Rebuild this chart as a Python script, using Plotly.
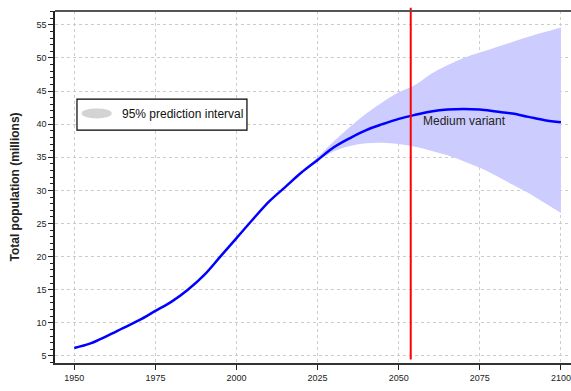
import plotly.graph_objects as go

# ---- data ----
years = [1950, 1955, 1960, 1965, 1970, 1975, 1980, 1985, 1990, 1995, 2000, 2005,
         2010, 2015, 2020, 2025, 2030, 2035, 2040, 2045, 2050, 2055, 2060, 2065,
         2070, 2075, 2080, 2085, 2090, 2095, 2100]
median = [6.2, 6.9, 8.0, 9.2, 10.4, 11.8, 13.2, 15.0, 17.2, 20.0, 22.8, 25.6,
          28.3, 30.5, 32.7, 34.6, 36.5, 37.9, 39.1, 40.0, 40.8, 41.4, 41.9, 42.2,
          42.3, 42.2, 41.9, 41.6, 41.1, 40.6, 40.3]

band_years = [2020, 2025, 2030, 2035, 2040, 2045, 2050, 2055, 2060, 2065, 2070,
              2075, 2080, 2085, 2090, 2095, 2100]
upper = [32.7, 35.0, 37.4, 39.6, 41.6, 43.3, 44.8, 45.9, 47.6, 48.9, 50.0,
         50.8, 51.6, 52.4, 53.2, 53.9, 54.6]
lower = [32.7, 34.4, 35.9, 36.7, 37.1, 37.2, 37.0, 36.6, 36.0, 35.3, 34.4,
         33.4, 32.2, 30.9, 29.6, 28.1, 26.6]

current_year = 2053.7
band_label = "95% prediction interval"
line_label = "Medium variant"
x_title = "Year"
y_title = "Total population (millions)"
x_ticks = [1950, 1975, 2000, 2025, 2050, 2075, 2100]
y_ticks = [5, 10, 15, 20, 25, 30, 35, 40, 45, 50, 55]

FONT = "Liberation Sans, Arial, sans-serif"

fig = go.Figure()
fig.add_trace(go.Scatter(x=band_years, y=lower, mode="lines", line=dict(width=0, shape="spline"),
                         showlegend=False, hoverinfo="skip"))
fig.add_trace(go.Scatter(x=band_years, y=upper, mode="lines", line=dict(width=0, shape="spline"),
                         fill="tonexty", fillcolor="#ccccff", showlegend=False,
                         name=band_label))
fig.add_trace(go.Scatter(x=years, y=median, mode="lines",
                         line=dict(color="#0000ff", width=2.5, shape="spline"),
                         showlegend=False, name=line_label))

fig.add_annotation(x=2057.0, y=40.5, xref="x", yref="y", text=line_label,
                   showarrow=False, xanchor="left", yanchor="middle",
                   font=dict(family=FONT, size=12, color="#222222"))

# x-axis title (mostly cut off at the bottom edge, as in the reference)
fig.add_annotation(x=0.5, y=-0.068, xref="paper", yref="paper", text="<b>" + x_title + "</b>",
                   showarrow=False, xanchor="center", yanchor="top",
                   font=dict(family=FONT, size=12, color="#222222"))

# red vertical line
fig.add_shape(type="line", xref="x", yref="paper", x0=current_year, x1=current_year,
              y0=0.01, y1=1.009, line=dict(color="#ff0000", width=2))
# top border
fig.add_shape(type="line", xref="paper", yref="paper", x0=0, x1=1, y0=1, y1=1,
              line=dict(color="#555555", width=2))

# legend box drawn as shapes
fig.add_shape(type="rect", xref="paper", yref="paper", x0=0.0426, x1=0.372,
              y0=0.6616, y1=0.7498, line=dict(color="#000000", width=1.2),
              fillcolor="#ffffff")
fig.add_shape(type="circle", xref="paper", yref="paper", x0=0.0517, x1=0.1099,
              y0=0.6949, y1=0.7233, line=dict(width=0), fillcolor="#d3d3d3")
fig.add_annotation(x=0.126, y=0.7085, xref="paper", yref="paper", text=band_label,
                   showarrow=False, xanchor="left", yanchor="middle",
                   font=dict(family=FONT, size=12, color="#111111"))

fig.update_layout(
    width=571, height=391,
    margin=dict(l=55, r=0, t=11, b=28, autoexpand=False),
    paper_bgcolor="white", plot_bgcolor="white",
    font=dict(family=FONT, size=9, color="#222222"),
    showlegend=False,
)
grid = dict(showgrid=True, gridcolor="#cccccc", griddash="dot", gridwidth=1)
fig.update_xaxes(range=[1944.05, 2103.1], tickvals=x_ticks, ticks="outside", ticklen=5,
                 tickcolor="#222222", showline=True, linecolor="#333333", linewidth=1.5,
                 zeroline=False, tickfont=dict(size=9, family=FONT, color="#222222"),
                 automargin=False, **grid)
fig.update_yaxes(range=[3.94, 57.08], tickvals=y_ticks, ticks="outside", ticklen=5,
                 tickcolor="#222222", showline=True, linecolor="#222222", linewidth=1.5,
                 zeroline=False, tickfont=dict(size=9, family=FONT, color="#222222"),
                 minor=dict(ticks="outside", ticklen=3, dtick=1, tick0=0, tickcolor="#222222",
                            showgrid=False),
                 title=dict(text="<b>" + y_title + "</b>",
                            font=dict(size=12, family=FONT, color="#222222"), standoff=14),
                 automargin=False, **grid)

fig.write_html("out.html")
